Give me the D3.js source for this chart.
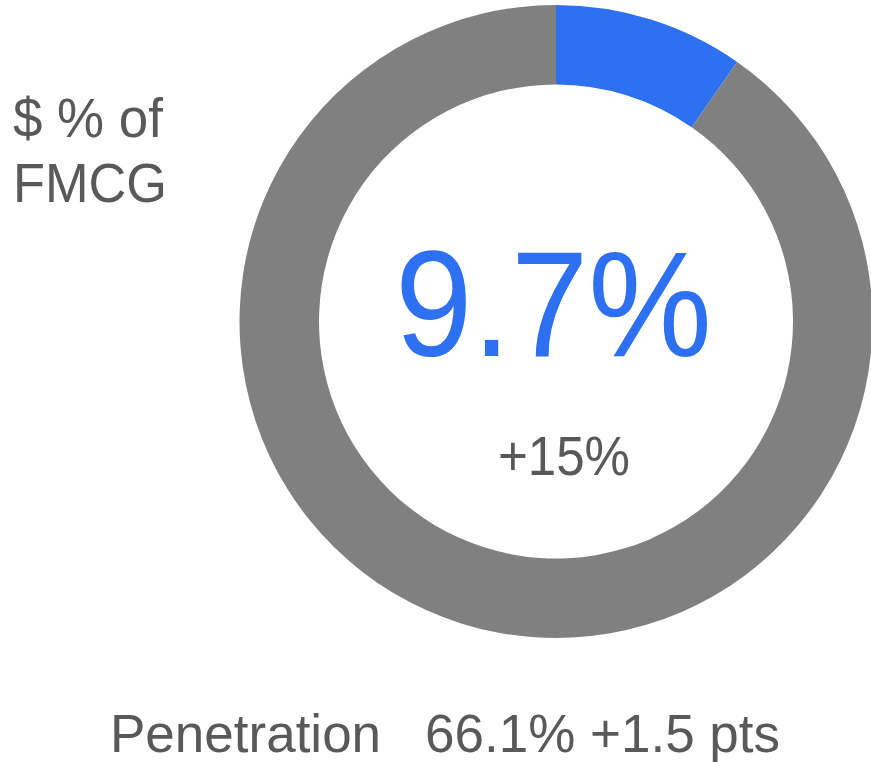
<!DOCTYPE html>
<html>
<head>
<meta charset="utf-8">
<script src="https://cdn.jsdelivr.net/npm/d3@7"></script>
<style>
  html, body { margin: 0; padding: 0; background: #fff; }
  svg { display: block; font-family: "Liberation Sans", Arial, sans-serif; }
</style>
</head>
<body>
<script>
// data
const segments = ["Share", "Rest"]
const shares = [9.7, 90.3]
const colors = ["#2e70f2", "#808080"]

const centerValue = "9.7%"
const centerChange = "+15%"
const sideLabel = ["$ % of", "FMCG"]
const sideWidths = [150, 154]
const footer = ["Penetration", "66.1% +1.5 pts"]

const width = 871, height = 762
const cx = 556, cy = 321.5
const outerR = 316.5, innerR = 237
const textGrey = "#595959"

const svg = d3.select("body").append("svg")
  .attr("width", width)
  .attr("height", height)

const pie = d3.pie()
  .sort(null)
  .value(d => d)

const arc = d3.arc()
  .innerRadius(innerR)
  .outerRadius(outerR)

const g = svg.append("g")
  .attr("transform", "translate(" + cx + "," + cy + ")")

g.selectAll(".slice")
  .data(pie(shares))
  .enter().append("path")
    .attr("class", "slice")
    .attr("d", arc)
    .attr("fill", (d, i) => colors[i])

// centre labels (font renders a touch wider than the original, squeeze it)
svg.append("text")
  .attr("x", 395)
  .attr("y", 356)
  .attr("font-size", 151)
  .attr("textLength", 317)
  .attr("lengthAdjust", "spacingAndGlyphs")
  .attr("fill", colors[0])
  .text(centerValue)

svg.append("text")
  .attr("x", 498)
  .attr("y", 475)
  .attr("font-size", 56)
  .attr("textLength", 132)
  .attr("lengthAdjust", "spacingAndGlyphs")
  .attr("fill", textGrey)
  .text(centerChange)

// side label
svg.selectAll(".side")
  .data(sideLabel)
  .enter().append("text")
    .attr("class", "side")
    .attr("x", 13)
    .attr("y", (d, i) => 137 + i * 65)
    .attr("font-size", 56)
    .attr("textLength", (d, i) => sideWidths[i])
    .attr("lengthAdjust", "spacingAndGlyphs")
    .attr("fill", textGrey)
    .text(d => d)

// footer
svg.selectAll(".footer")
  .data(footer)
  .enter().append("text")
    .attr("class", "footer")
    .attr("x", (d, i) => i ? 425 : 110)
    .attr("y", 752)
    .attr("font-size", 53)
    .attr("fill", textGrey)
    .text(d => d)
</script>
</body>
</html>
